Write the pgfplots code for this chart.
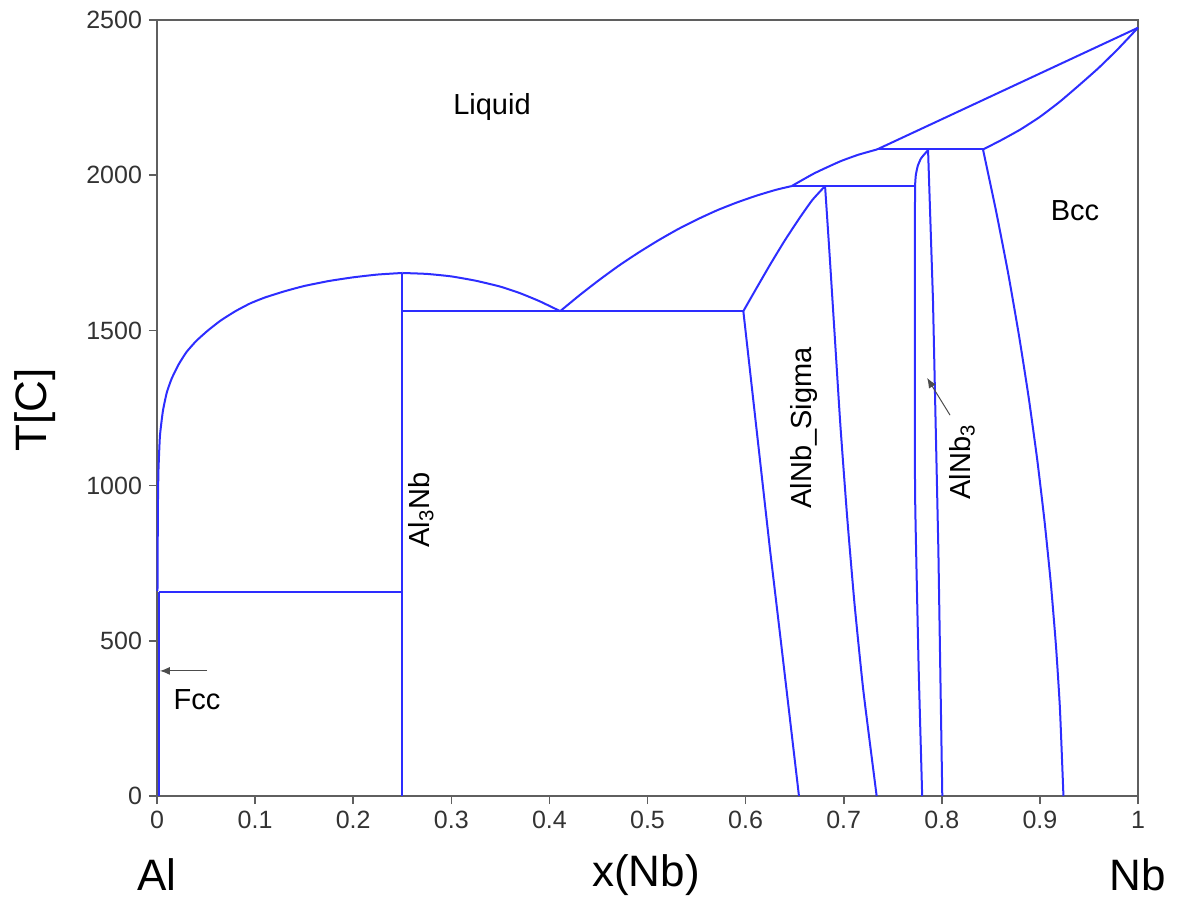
\documentclass[border=0pt]{standalone}
\usepackage{fontspec}
\setmainfont{Liberation Sans}
\usepackage{pgfplots}
\pgfplotsset{compat=1.18}
\usetikzlibrary{arrows.meta}
\definecolor{phase}{RGB}{45,45,255}
\definecolor{frame}{RGB}{95,95,95}

\begin{document}
\begin{tikzpicture}
\begin{axis}[
  at={(0,0)}, anchor=south west,
  scale only axis, width=490.5pt, height=388pt,
  xmin=0, xmax=1, ymin=0, ymax=2500,
  xtick={0,0.1,0.2,0.3,0.4,0.5,0.6,0.7,0.8,0.9,1},
  xticklabels={0,0.1,0.2,0.3,0.4,0.5,0.6,0.7,0.8,0.9,1},
  ytick={0,500,1000,1500,2000,2500},
  tick align=outside, xtick pos=bottom, ytick pos=left,
  major tick length=4pt,
  axis line style={frame, line width=1pt},
  every tick/.style={frame, line width=0.8pt},
  tick label style={font=\fontsize{12.5}{14}\selectfont, text=black!80},
  /pgf/number format/assume math mode=true,
  /pgf/number format/1000 sep={},
  clip=false,
  bd/.style={phase, line width=1pt, mark=none, solid, line join=round},
  cv/.style={bd, smooth, tension=0.3},
]
% Al-rich liquidus
\addplot[cv] coordinates {
  (0.0005,660) (0.0007,800) (0.001,950) (0.0015,1050) (0.003,1160)
  (0.006,1240) (0.010,1300) (0.015,1345) (0.022,1390) (0.030,1430)
  (0.040,1466) (0.052,1500) (0.065,1532) (0.080,1562) (0.095,1587)
  (0.110,1606) (0.130,1626) (0.150,1643) (0.175,1659) (0.200,1671)
  (0.225,1680) (0.25,1685)};
\addplot[cv] coordinates {
  (0.25,1685) (0.275,1682) (0.30,1674) (0.325,1660) (0.35,1641)
  (0.37,1620) (0.39,1594) (0.411,1562)};
% liquidus towards sigma / AlNb3 / Bcc
\addplot[cv] coordinates {
  (0.411,1562) (0.431,1614) (0.451,1663) (0.471,1709) (0.491,1751)
  (0.511,1790) (0.531,1826) (0.551,1858) (0.571,1887) (0.591,1912)
  (0.611,1934) (0.631,1953) (0.647,1965)};
\addplot[cv] coordinates {
  (0.647,1965) (0.67,2006) (0.696,2044) (0.715,2066) (0.734,2083)};
\addplot[bd] coordinates {(0.734,2083) (1,2475)};
% Bcc solidus
\addplot[cv] coordinates {
  (0.842,2083) (0.86,2112) (0.88,2147) (0.90,2188) (0.92,2236)
  (0.94,2290) (0.96,2346) (0.98,2408) (1,2475)};
% invariant lines
\addplot[bd] coordinates {(0.002,657) (0.25,657)};
\addplot[bd] coordinates {(0.25,1562) (0.5977,1562)};
\addplot[bd] coordinates {(0.647,1965) (0.7727,1965)};
\addplot[bd] coordinates {(0.734,2083) (0.842,2083)};
% Fcc solvus and Al3Nb
\addplot[bd] coordinates {(0.002,0) (0.002,657)};
\addplot[bd] coordinates {(0.25,0) (0.25,1685)};
% AlNb_Sigma
\addplot[cv] coordinates {
  (0.5977,1562) (0.61,1630) (0.625,1712) (0.64,1790) (0.655,1862)
  (0.668,1920) (0.681,1965)};
\addplot[bd] coordinates {
  (0.5977,1562) (0.6249,793) (0.635,524) (0.6544,0)};
\addplot[cv] coordinates {
  (0.681,1965) (0.6855,1750) (0.6905,1500) (0.6965,1200) (0.7035,900)
  (0.711,620) (0.7200,340) (0.7336,0)};
% AlNb3
\addplot[cv] coordinates {
  (0.786,2081) (0.779,2055) (0.7755,2030) (0.7735,2000) (0.7727,1965)};
\addplot[cv] coordinates {
  (0.7727,1965) (0.7725,1500) (0.7727,1000) (0.7738,793) (0.7765,400) (0.780,0)};
\addplot[bd] coordinates {
  (0.786,2081) (0.791,1598) (0.7965,793) (0.8005,0)};
% Bcc solvus
\addplot[cv] coordinates {
  (0.842,2083) (0.8554,1883) (0.8677,1683) (0.8787,1483) (0.8886,1283)
  (0.8973,1083) (0.9048,883) (0.9112,683) (0.9164,483) (0.9204,283) (0.924,0)};

% phase labels
\node[font=\fontsize{14.5}{16}\selectfont] at (axis cs:0.3415,2220) {Liquid};
\node[font=\fontsize{14.5}{16}\selectfont] at (axis cs:0.9358,1885) {Bcc};
\node[font=\fontsize{14.5}{16}\selectfont, rotate=90] at (axis cs:0.269,921) {Al\textsubscript{3}Nb};
\node[font=\fontsize{14.5}{16}\selectfont, rotate=90] at (axis cs:0.6595,1186) {AlNb\_Sigma};
\node[font=\fontsize{14.5}{16}\selectfont, rotate=90] at (axis cs:0.8206,1076) {AlNb\textsubscript{3}};
\node[font=\fontsize{14.5}{16}\selectfont] at (axis cs:0.0408,309) {Fcc};
\draw[-{Latex[length=5pt,width=4pt]}, black!70, line width=0.5pt]
  (axis cs:0.0510,403) -- (axis cs:0.003,403);
\draw[-{Latex[length=5pt,width=4pt]}, black!70, line width=0.5pt]
  (axis cs:0.8084,1227) -- (axis cs:0.785,1347);

% axis texts
\node[font=\fontsize{22}{26}\selectfont] at (axis cs:0,-254.5) {Al};
\node[font=\fontsize{22}{26}\selectfont] at (axis cs:0.4985,-254.5) {x(Nb)};
\node[font=\fontsize{22}{26}\selectfont] at (axis cs:1,-254.5) {Nb};
\node[font=\fontsize{22}{26}\selectfont, rotate=90] at (axis cs:-0.1244,1244) {T[C]};
\end{axis}
\pgfresetboundingbox
\path[use as bounding box] (-78.5pt,-55pt) rectangle (510.5pt,398pt);
\end{tikzpicture}
\end{document}
